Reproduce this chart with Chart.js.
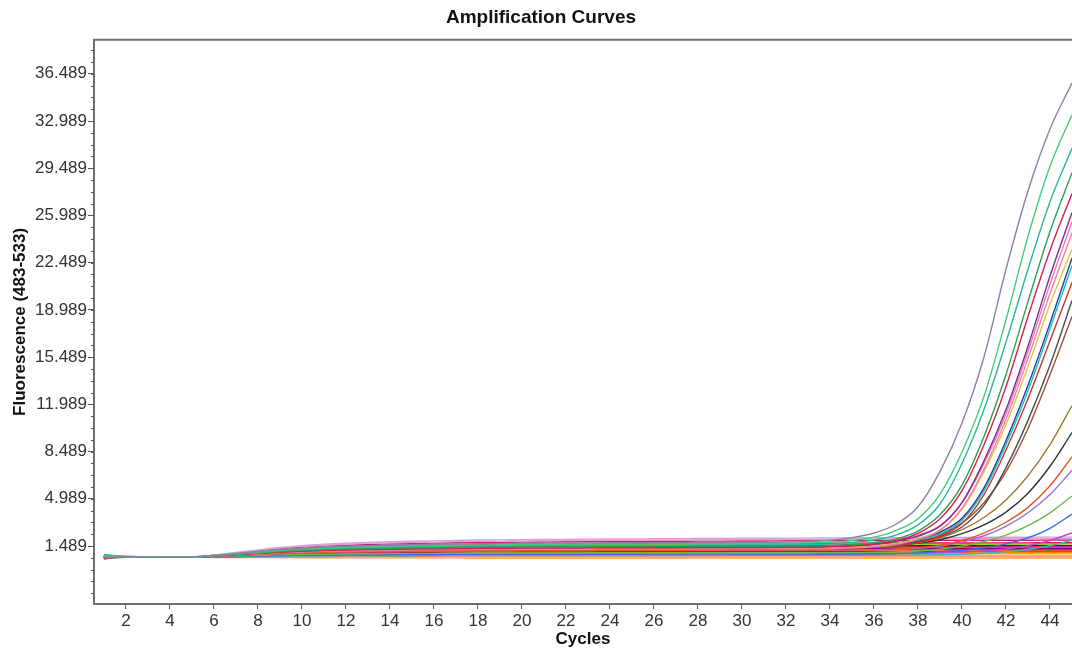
<!DOCTYPE html>
<html>
<head>
<meta charset="utf-8">
<script src="https://cdn.jsdelivr.net/npm/chart.js@4/dist/chart.umd.min.js"></script>
<style>
  html, body { margin: 0; padding: 0; background: #ffffff; }
  #wrap { width: 1072px; height: 652px; }
</style>
</head>
<body>
<div id="wrap"><canvas id="c" width="1072" height="652"></canvas></div>
<script>
const cycles = [1,2,3,4,5,6,7,8,9,10,11,12,13,14,15,16,17,18,19,20,21,22,23,24,25,26,27,28,29,30,31,32,33,34,35,36,37,38,39,40,41,42,43,44,45];
const yTicks = [1.489, 4.989, 8.489, 11.989, 15.489, 18.989, 22.489, 25.989, 29.489, 32.989, 36.489];
const xTicks = [2,4,6,8,10,12,14,16,18,20,22,24,26,28,30,32,34,36,38,40,42,44];

// amplifying samples
const s01 = [0.62,0.71,0.68,0.65,0.67,0.79,0.94,1.09,1.23,1.34,1.42,1.48,1.52,1.56,1.59,1.62,1.64,1.66,1.67,1.69,1.70,1.71,1.72,1.73,1.73,1.74,1.74,1.75,1.75,1.77,1.77,1.78,1.83,1.91,2.10,2.45,3.10,4.40,7.00,10.60,15.50,22.00,27.80,32.40,35.80];
const s02 = [0.70,0.70,0.68,0.65,0.67,0.78,0.91,1.05,1.18,1.28,1.35,1.41,1.45,1.48,1.51,1.53,1.55,1.57,1.58,1.60,1.61,1.62,1.63,1.64,1.64,1.65,1.65,1.66,1.66,1.67,1.67,1.68,1.71,1.77,1.90,2.14,2.63,3.51,5.33,8.46,12.58,18.26,24.44,29.63,33.45];
const s03 = [0.80,0.70,0.68,0.65,0.67,0.76,0.89,1.01,1.13,1.22,1.29,1.33,1.37,1.40,1.43,1.45,1.47,1.49,1.50,1.51,1.51,1.52,1.53,1.54,1.54,1.55,1.55,1.56,1.56,1.57,1.57,1.58,1.58,1.64,1.74,1.94,2.30,3.05,4.60,7.60,11.60,16.60,22.00,27.00,30.98];
const s04 = [0.66,0.69,0.68,0.65,0.67,0.75,0.86,0.97,1.08,1.16,1.22,1.26,1.30,1.32,1.35,1.36,1.38,1.40,1.41,1.42,1.42,1.43,1.44,1.45,1.45,1.46,1.46,1.47,1.47,1.47,1.47,1.48,1.48,1.52,1.60,1.73,2.02,2.60,3.80,6.00,9.60,14.20,19.60,24.80,29.15];
const s05 = [0.58,0.69,0.67,0.65,0.67,0.74,0.84,0.94,1.03,1.10,1.15,1.19,1.22,1.24,1.27,1.28,1.30,1.31,1.32,1.33,1.33,1.34,1.35,1.36,1.36,1.36,1.36,1.37,1.37,1.38,1.38,1.39,1.39,1.43,1.49,1.62,1.88,2.42,3.50,5.60,9.00,13.30,18.50,23.40,27.62];
const s06 = [0.72,0.69,0.68,0.65,0.67,0.75,0.86,0.97,1.08,1.16,1.22,1.26,1.30,1.32,1.35,1.36,1.38,1.40,1.41,1.42,1.42,1.43,1.44,1.45,1.45,1.46,1.46,1.47,1.47,1.47,1.47,1.48,1.48,1.49,1.55,1.63,1.84,2.22,2.95,4.70,7.80,11.60,16.30,21.50,26.20];
const s07 = [0.60,0.68,0.67,0.65,0.66,0.73,0.81,0.90,0.98,1.04,1.09,1.12,1.14,1.16,1.18,1.20,1.21,1.22,1.23,1.24,1.24,1.25,1.25,1.26,1.26,1.27,1.27,1.27,1.27,1.28,1.28,1.29,1.29,1.29,1.35,1.43,1.62,1.98,2.65,4.30,7.20,10.90,15.40,20.20,24.70];
const s08 = [0.75,0.69,0.67,0.65,0.67,0.74,0.84,0.94,1.03,1.10,1.15,1.19,1.22,1.24,1.27,1.28,1.30,1.31,1.32,1.33,1.33,1.34,1.35,1.36,1.36,1.36,1.36,1.37,1.37,1.38,1.38,1.39,1.39,1.39,1.44,1.52,1.70,2.04,2.68,4.20,7.00,10.50,14.80,19.40,23.50];
const s09 = [0.64,0.69,0.68,0.65,0.67,0.75,0.86,0.97,1.08,1.16,1.22,1.26,1.30,1.32,1.35,1.36,1.38,1.40,1.41,1.42,1.42,1.43,1.44,1.45,1.45,1.46,1.46,1.47,1.47,1.47,1.47,1.48,1.48,1.49,1.50,1.58,1.72,1.98,2.52,3.55,5.80,9.30,13.40,18.00,22.84];
const s10 = [0.70,0.68,0.67,0.65,0.66,0.73,0.81,0.90,0.98,1.04,1.09,1.12,1.14,1.16,1.18,1.20,1.21,1.22,1.23,1.24,1.24,1.25,1.25,1.26,1.26,1.27,1.27,1.27,1.27,1.28,1.28,1.29,1.29,1.29,1.30,1.38,1.50,1.74,2.22,3.15,5.30,8.60,12.40,16.70,21.02];
const s11 = [0.68,0.69,0.68,0.65,0.67,0.75,0.86,0.97,1.08,1.16,1.22,1.26,1.30,1.32,1.35,1.36,1.38,1.40,1.41,1.42,1.42,1.43,1.44,1.45,1.45,1.46,1.46,1.47,1.47,1.47,1.47,1.48,1.48,1.49,1.50,1.56,1.64,1.82,2.18,2.90,4.50,7.30,10.80,14.90,19.68];
const s12 = [0.78,0.70,0.68,0.65,0.67,0.76,0.89,1.01,1.13,1.22,1.29,1.33,1.37,1.40,1.43,1.45,1.47,1.49,1.50,1.51,1.51,1.52,1.53,1.54,1.54,1.55,1.55,1.56,1.56,1.57,1.57,1.58,1.58,1.59,1.65,1.73,1.93,2.30,3.00,4.70,7.60,11.30,15.90,20.90,25.52];
const s13 = [0.66,0.69,0.67,0.65,0.67,0.74,0.84,0.94,1.03,1.10,1.15,1.19,1.22,1.24,1.27,1.28,1.30,1.31,1.32,1.33,1.33,1.34,1.35,1.36,1.36,1.36,1.36,1.37,1.37,1.38,1.38,1.39,1.39,1.39,1.40,1.48,1.62,1.88,2.40,3.40,5.60,9.00,13.00,17.60,22.28];
const s14 = [0.62,0.69,0.67,0.65,0.67,0.74,0.84,0.94,1.03,1.10,1.15,1.19,1.22,1.24,1.27,1.28,1.30,1.31,1.32,1.33,1.33,1.34,1.35,1.36,1.36,1.36,1.36,1.37,1.37,1.38,1.38,1.39,1.39,1.39,1.40,1.45,1.55,1.80,2.30,3.20,4.70,7.00,10.20,14.20,18.50];
const s15 = [0.70,0.69,0.67,0.65,0.67,0.74,0.84,0.94,1.03,1.10,1.15,1.19,1.22,1.24,1.27,1.28,1.30,1.31,1.32,1.33,1.33,1.34,1.35,1.36,1.36,1.36,1.36,1.37,1.37,1.38,1.38,1.39,1.39,1.39,1.40,1.45,1.55,1.75,2.10,2.70,3.60,4.90,6.70,9.00,11.90];
const s16 = [0.60,0.69,0.68,0.65,0.67,0.75,0.86,0.97,1.08,1.16,1.22,1.26,1.30,1.32,1.35,1.36,1.38,1.40,1.41,1.42,1.42,1.43,1.44,1.45,1.45,1.46,1.46,1.47,1.47,1.47,1.47,1.48,1.48,1.49,1.50,1.52,1.58,1.70,1.95,2.40,3.05,4.00,5.40,7.40,9.90];
const s17 = [0.74,0.68,0.67,0.65,0.66,0.72,0.79,0.86,0.93,0.98,1.02,1.05,1.07,1.08,1.10,1.11,1.12,1.13,1.14,1.15,1.15,1.16,1.16,1.17,1.17,1.17,1.17,1.18,1.18,1.18,1.18,1.19,1.19,1.19,1.20,1.22,1.26,1.35,1.55,1.90,2.45,3.25,4.35,5.95,8.10];
const s18 = [0.56,0.68,0.67,0.65,0.66,0.72,0.79,0.86,0.93,0.98,1.02,1.05,1.07,1.08,1.10,1.11,1.12,1.13,1.14,1.15,1.15,1.16,1.16,1.17,1.17,1.17,1.17,1.18,1.18,1.18,1.18,1.19,1.19,1.19,1.20,1.22,1.25,1.32,1.48,1.78,2.25,2.95,3.95,5.30,7.10];
const s19 = [0.84,0.67,0.66,0.65,0.66,0.69,0.74,0.78,0.83,0.86,0.88,0.90,0.92,0.93,0.94,0.94,0.95,0.96,0.96,0.97,0.97,0.97,0.98,0.98,0.98,0.98,0.98,0.99,0.99,0.99,0.99,0.99,0.99,1.00,1.00,1.02,1.05,1.12,1.25,1.48,1.82,2.30,3.00,3.95,5.20];
const s20 = [0.60,0.67,0.66,0.65,0.66,0.68,0.71,0.75,0.78,0.80,0.82,0.83,0.84,0.85,0.86,0.86,0.87,0.87,0.87,0.88,0.88,0.88,0.88,0.88,0.88,0.89,0.89,0.89,0.89,0.89,0.89,0.89,0.89,0.90,0.90,0.92,0.94,0.98,1.05,1.17,1.36,1.65,2.10,2.80,3.85];
const s21 = [0.70,0.67,0.66,0.65,0.66,0.68,0.71,0.75,0.78,0.80,0.82,0.83,0.84,0.85,0.86,0.86,0.87,0.87,0.87,0.88,0.88,0.88,0.88,0.88,0.88,0.89,0.89,0.89,0.89,0.89,0.89,0.89,0.89,0.90,0.90,0.91,0.92,0.94,0.98,1.04,1.13,1.28,1.52,1.90,2.46];
const s22 = [0.76,0.66,0.65,0.65,0.65,0.67,0.69,0.71,0.73,0.74,0.75,0.76,0.76,0.77,0.77,0.78,0.78,0.78,0.78,0.79,0.79,0.79,0.79,0.79,0.79,0.79,0.79,0.79,0.79,0.80,0.80,0.80,0.80,0.80,0.80,0.80,0.81,0.82,0.84,0.88,0.95,1.06,1.25,1.52,1.92];

// non-amplifying samples (baseline band)
const f01 = [0.70,0.72,0.69,0.65,0.68,0.82,1.01,1.20,1.38,1.52,1.62,1.69,1.75,1.80,1.84,1.87,1.90,1.93,1.94,1.96,1.97,1.98,2.00,2.01,2.01,2.03,2.03,2.04,2.04,2.06,2.06,2.07,2.07,2.09,2.10,2.11,2.11,2.12,2.12,2.13,2.13,2.14,2.14,2.15,2.15];
const f02 = [0.66,0.72,0.69,0.65,0.68,0.81,0.99,1.16,1.33,1.46,1.55,1.62,1.68,1.72,1.76,1.78,1.81,1.84,1.85,1.87,1.88,1.89,1.91,1.92,1.92,1.93,1.93,1.95,1.95,1.96,1.96,1.97,1.97,1.99,2.00,2.00,2.01,2.01,2.02,2.02,2.03,2.03,2.03,2.04,2.04];
const f03 = [0.62,0.71,0.69,0.65,0.68,0.80,0.96,1.13,1.28,1.40,1.49,1.55,1.60,1.64,1.68,1.70,1.73,1.75,1.76,1.78,1.79,1.80,1.81,1.83,1.83,1.84,1.84,1.85,1.85,1.86,1.86,1.88,1.88,1.89,1.90,1.90,1.90,1.91,1.91,1.91,1.92,1.92,1.92,1.93,1.93];
const f04 = [0.72,0.70,0.68,0.65,0.67,0.78,0.91,1.05,1.18,1.28,1.35,1.41,1.45,1.48,1.51,1.53,1.55,1.57,1.58,1.60,1.61,1.62,1.63,1.64,1.64,1.65,1.65,1.66,1.66,1.67,1.67,1.68,1.68,1.69,1.70,1.70,1.70,1.71,1.71,1.71,1.72,1.72,1.72,1.73,1.73];
const f05 = [0.86,0.70,0.68,0.65,0.67,0.76,0.89,1.01,1.13,1.22,1.29,1.33,1.37,1.40,1.43,1.45,1.47,1.49,1.50,1.51,1.51,1.52,1.53,1.54,1.54,1.55,1.55,1.56,1.56,1.57,1.57,1.58,1.58,1.59,1.60,1.60,1.60,1.61,1.61,1.61,1.62,1.62,1.62,1.62,1.63];
const f06 = [0.58,0.69,0.68,0.65,0.67,0.75,0.86,0.97,1.08,1.16,1.22,1.26,1.30,1.32,1.35,1.36,1.38,1.40,1.41,1.42,1.42,1.43,1.44,1.45,1.45,1.46,1.46,1.47,1.47,1.47,1.47,1.48,1.48,1.49,1.50,1.50,1.50,1.51,1.51,1.51,1.51,1.52,1.52,1.52,1.52];
const f07 = [0.64,0.69,0.67,0.65,0.67,0.74,0.84,0.94,1.03,1.10,1.15,1.19,1.22,1.24,1.27,1.28,1.30,1.31,1.32,1.33,1.33,1.34,1.35,1.36,1.36,1.36,1.36,1.37,1.37,1.38,1.38,1.39,1.39,1.39,1.40,1.40,1.40,1.41,1.41,1.41,1.41,1.42,1.42,1.42,1.42];
const f08 = [0.70,0.68,0.67,0.65,0.66,0.73,0.81,0.90,0.98,1.04,1.09,1.12,1.14,1.16,1.18,1.20,1.21,1.22,1.23,1.24,1.24,1.25,1.25,1.26,1.26,1.27,1.27,1.27,1.27,1.28,1.28,1.29,1.29,1.29,1.30,1.30,1.30,1.31,1.31,1.31,1.31,1.32,1.32,1.32,1.32];
const f09 = [0.66,0.68,0.67,0.65,0.66,0.72,0.80,0.88,0.95,1.01,1.05,1.08,1.11,1.12,1.14,1.15,1.17,1.18,1.18,1.19,1.20,1.20,1.21,1.21,1.21,1.22,1.22,1.23,1.23,1.23,1.23,1.24,1.24,1.24,1.25,1.25,1.25,1.26,1.26,1.26,1.26,1.27,1.27,1.27,1.27];
const f10 = [0.60,0.68,0.67,0.65,0.66,0.72,0.79,0.86,0.93,0.98,1.02,1.05,1.07,1.08,1.10,1.11,1.12,1.13,1.14,1.15,1.15,1.16,1.16,1.17,1.17,1.17,1.17,1.18,1.18,1.18,1.18,1.19,1.19,1.19,1.20,1.20,1.20,1.20,1.21,1.21,1.21,1.21,1.22,1.22,1.22];
const f11 = [0.68,0.67,0.66,0.65,0.66,0.70,0.76,0.82,0.88,0.92,0.95,0.97,0.99,1.01,1.02,1.03,1.04,1.05,1.05,1.06,1.06,1.06,1.07,1.07,1.07,1.08,1.08,1.08,1.08,1.09,1.09,1.09,1.09,1.10,1.10,1.10,1.10,1.10,1.11,1.11,1.11,1.11,1.12,1.12,1.12];
const f12 = [0.74,0.67,0.66,0.65,0.66,0.69,0.74,0.78,0.83,0.86,0.88,0.90,0.92,0.93,0.94,0.94,0.95,0.96,0.96,0.97,0.97,0.97,0.98,0.98,0.98,0.98,0.98,0.99,0.99,0.99,0.99,0.99,0.99,1.00,1.00,1.00,1.00,1.00,1.01,1.01,1.01,1.01,1.01,1.02,1.02];
const f13 = [0.62,0.67,0.66,0.65,0.66,0.68,0.71,0.75,0.78,0.80,0.82,0.83,0.84,0.85,0.86,0.86,0.87,0.87,0.87,0.88,0.88,0.88,0.88,0.88,0.88,0.89,0.89,0.89,0.89,0.89,0.89,0.89,0.89,0.90,0.90,0.90,0.90,0.90,0.90,0.91,0.91,0.91,0.91,0.91,0.91];
const f14 = [0.58,0.66,0.65,0.65,0.65,0.66,0.68,0.69,0.70,0.71,0.72,0.72,0.73,0.73,0.73,0.73,0.74,0.74,0.74,0.74,0.74,0.74,0.74,0.74,0.74,0.74,0.74,0.74,0.74,0.75,0.75,0.75,0.75,0.75,0.75,0.75,0.75,0.75,0.75,0.75,0.75,0.75,0.75,0.75,0.75];
const f15 = [0.55,0.66,0.65,0.65,0.65,0.64,0.64,0.63,0.63,0.62,0.62,0.61,0.61,0.61,0.61,0.61,0.61,0.60,0.60,0.60,0.60,0.60,0.60,0.60,0.60,0.60,0.60,0.60,0.60,0.60,0.60,0.60,0.60,0.60,0.60,0.60,0.60,0.60,0.60,0.60,0.60,0.60,0.60,0.60,0.60];
const f16 = [0.52,0.69,0.68,0.65,0.67,0.75,0.86,0.97,1.08,1.16,1.22,1.26,1.30,1.32,1.35,1.36,1.38,1.40,1.41,1.42,1.42,1.43,1.44,1.45,1.45,1.46,1.46,1.47,1.47,1.47,1.47,1.48,1.48,1.49,1.50,1.50,1.50,1.50,1.51,1.51,1.51,1.51,1.51,1.52,1.52];

const seriesList = [s01,s02,s03,s04,s05,s06,s07,s08,s09,s10,s11,s12,s13,s14,s15,s16,s17,s18,s19,s20,s21,s22,
                    f01,f02,f03,f04,f05,f06,f07,f08,f09,f10,f11,f12,f13,f14,f15,f16];
const colors = ['#8f7fa3','#3ccf78','#29b89c','#2e9e4f','#d6204f','#7b2d8e','#f57fa0','#e3c24a','#2b3f8c','#c0392b','#4d4d4d',
                '#e377c2','#17becf','#a0522d','#9c7a2b','#333333','#e25822','#9370db','#66bb44','#4169e1','#b04fd0','#3cb3c3',
                '#d7a0d7','#e8a2c6','#c71585','#dc143c','#9acd32','#800000','#ff1493','#8b008b','#e6194b','#ff4500',
                '#b22222','#ff8c00','#ffa500','#ff7f50','#ff9933','#2f4f4f'];

seriesList.forEach((s, i) => { if (s.length !== cycles.length) throw new Error('series ' + i + ' has ' + s.length + ' values'); });

const datasets = seriesList.map((s, i) => ({
  data: cycles.map((c, k) => ({ x: c, y: s[k] })),
  borderColor: colors[i],
  borderWidth: 1.4,
  pointRadius: 0,
  fill: false,
  cubicInterpolationMode: 'monotone'
}));

const tickFamily = "'Liberation Sans', Arial, sans-serif";

const framePlugin = {
  id: 'frame',
  afterDraw(chart) {
    const { ctx, chartArea: a, scales: { y } } = chart;
    ctx.save();
    ctx.strokeStyle = '#707070';
    ctx.lineWidth = 2;
    ctx.beginPath();
    ctx.moveTo(a.left - 1, a.top);
    ctx.lineTo(a.right, a.top);
    ctx.stroke();
    ctx.lineWidth = 1;
    ctx.strokeStyle = '#555';
    const step = (yTicks[1] - yTicks[0]) / 4;
    for (let v = yTicks[0] - 4 * step; v <= y.max; v += step) {
      if (v < y.min) continue;
      const p = Math.round(y.getPixelForValue(v)) + 0.5;
      ctx.beginPath();
      ctx.moveTo(a.left - 3, p);
      ctx.lineTo(a.left, p);
      ctx.stroke();
    }
    ctx.restore();
  }
};

new Chart(document.getElementById('c'), {
  type: 'line',
  data: { datasets },
  plugins: [framePlugin],
  options: {
    responsive: false,
    animation: false,
    events: [],
    layout: { padding: { left: 10, right: 0, top: 0, bottom: 0 } },
    plugins: {
      legend: { display: false },
      tooltip: { enabled: false },
      title: {
        display: true,
        text: 'Amplification Curves',
        color: '#111',
        font: { family: "'Liberation Sans', Arial, sans-serif", size: 19, weight: 'bold' },
        padding: { top: 6, bottom: 11 }
      }
    },
    scales: {
      x: {
        type: 'linear',
        min: 0.55,
        max: 45,
        afterBuildTicks: (s) => { s.ticks = xTicks.map(v => ({ value: v })); },
        afterFit: (s) => { s.height = 48; },
        grid: { drawOnChartArea: false, drawTicks: true, tickLength: 5, color: '#555' },
        border: { display: true, color: '#707070', width: 2 },
        ticks: { color: '#333', font: { family: tickFamily, size: 17 }, padding: 2, maxRotation: 0, autoSkip: false },
        title: { display: true, text: 'Cycles', color: '#111', font: { family: tickFamily, size: 17, weight: 'bold' }, padding: { top: 0, bottom: 2 } }
      },
      y: {
        type: 'linear',
        min: -2.81,
        max: 39.01,
        afterBuildTicks: (s) => { s.ticks = yTicks.map(v => ({ value: v })); },
        afterFit: (s) => { s.width = 84; },
        grid: { drawOnChartArea: false, drawTicks: true, tickLength: 6, color: '#555' },
        border: { display: true, color: '#707070', width: 2 },
        ticks: { color: '#333', font: { family: tickFamily, size: 17 }, padding: 1, callback: (v) => v.toFixed(3) },
        title: { display: true, text: 'Fluorescence (483-533)', color: '#111', font: { family: tickFamily, size: 17, weight: 'bold' }, padding: 0 }
      }
    }
  }
});
</script>
</body>
</html>
